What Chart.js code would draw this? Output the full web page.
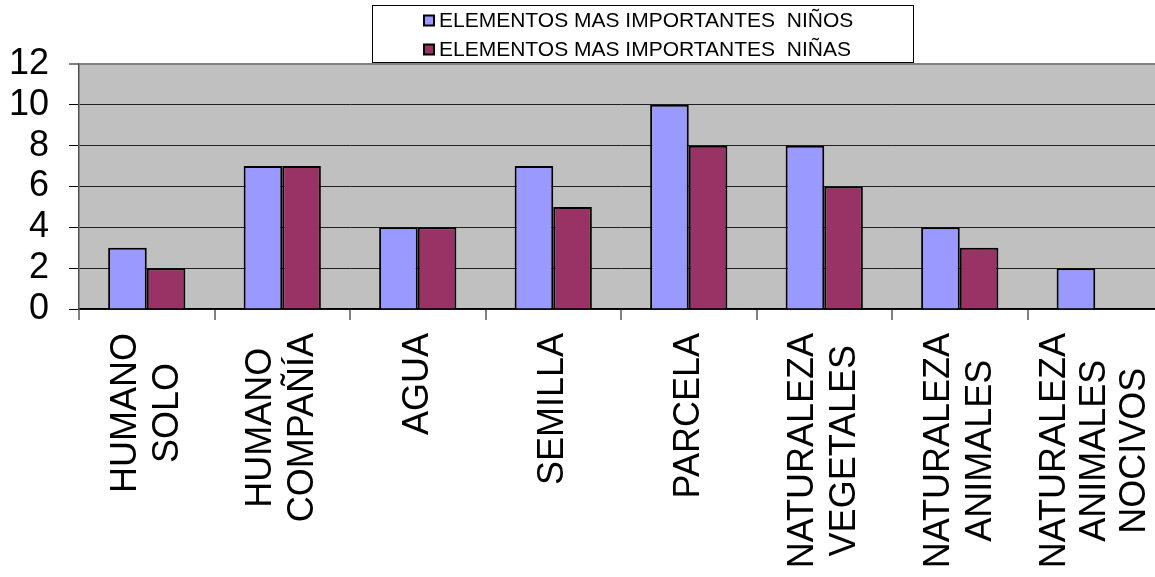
<!DOCTYPE html>
<html><head><meta charset="utf-8">
<script src="https://cdn.jsdelivr.net/npm/chart.js@4"></script>
<style>html,body{margin:0;padding:0;overflow:hidden;background:#fff}
#wrap{width:1165px;height:577px;position:relative}</style>
</head><body><div id="wrap"><canvas id="c" width="1165" height="577"></canvas></div>
<script>
const categories = [["HUMANO","SOLO"],["HUMANO","COMPAÑÍA"],["AGUA"],["SEMILLA"],["PARCELA"],["NATURALEZA","VEGETALES"],["NATURALEZA","ANIMALES"],["NATURALEZA","ANIMALES","NOCIVOS"]];
const ninos = [3,7,4,7,10,8,4,2];
const ninas = [2,7,4,5,8,6,3,0];
const seriesNames = ["ELEMENTOS MAS IMPORTANTES  NIÑOS","ELEMENTOS MAS IMPORTANTES  NIÑAS"];
const yTicks = [0,2,4,6,8,10,12];

const FONT = 'Arial, "Liberation Sans", sans-serif';

const bgPlugin = {
  id: 'plotBg',
  beforeDraw(chart) {
    const {ctx, chartArea: a} = chart;
    ctx.save();
    ctx.fillStyle = '#C0C0C0';
    ctx.fillRect(a.left, a.top, a.right - a.left, a.bottom - a.top);
    ctx.restore();
  }
};

const labelPlugin = {
  id: 'xLabels',
  afterDraw(chart) {
    const {ctx} = chart;
    const xs = chart.scales.x;
    ctx.save();
    ctx.font = '36px ' + FONT;
    ctx.fillStyle = '#000';
    ctx.textAlign = 'center';
    ctx.textBaseline = 'middle';
    categories.forEach((lines, i) => {
      const cx = xs.getPixelForValue(i);
      const maxW = Math.max(...lines.map(l => ctx.measureText(l).width));
      const lh = lines.length > 2 ? 40 : 42;
      const cy = chart.chartArea.bottom + 24 + maxW / 2;
      lines.forEach((l, j) => {
        const x = cx + (j - (lines.length - 1) / 2) * lh;
        ctx.save();
        ctx.translate(x, cy);
        ctx.rotate(-Math.PI / 2);
        ctx.fillText(l, 0, 0);
        ctx.restore();
      });
    });
    ctx.restore();
  }
};

const legendPlugin = {
  id: 'boxLegend',
  afterDraw(chart) {
    const {ctx} = chart;
    ctx.save();
    ctx.strokeStyle = '#000';
    ctx.lineWidth = 1;
    ctx.strokeRect(372.5, 5.5, 541, 57);
    ctx.font = '21px ' + FONT;
    ctx.textBaseline = 'middle';
    ctx.textAlign = 'left';
    chart.data.datasets.forEach((ds, i) => {
      const y = 20.5 + i * 29;
      ctx.fillStyle = ds.backgroundColor;
      ctx.fillRect(424, y - 5, 10, 10);
      ctx.lineWidth = 2;
      ctx.strokeStyle = '#000';
      ctx.strokeRect(424, y - 5, 10, 10);
      ctx.fillStyle = '#000';
      ctx.fillText(ds.label, 439, y + 1);
    });
    ctx.restore();
  }
};

new Chart(document.getElementById('c'), {
  type: 'bar',
  data: {
    labels: categories,
    datasets: [
      {label: seriesNames[0], data: ninos, backgroundColor: '#9999FF', borderColor: '#000', borderWidth: 2},
      {label: seriesNames[1], data: ninas, backgroundColor: '#993366', borderColor: '#000', borderWidth: 2}
    ]
  },
  options: {
    responsive: false,
    animation: false,
    devicePixelRatio: 1,
    layout: {padding: {top: 64, left: 9, right: 2, bottom: 257}},
    plugins: {legend: {display: false}, tooltip: {enabled: false}},
    datasets: {bar: {categoryPercentage: 0.57, barPercentage: 1.0}},
    scales: {
      x: {
        ticks: {display: false},
        grid: {display: true, drawOnChartArea: false, drawTicks: true, tickLength: 11, color: '#808080', lineWidth: 2, offset: true},
        border: {display: true, color: '#000', width: 1.5}
      },
      y: {
        min: 0, max: 12,
        afterBuildTicks(scale) { scale.ticks = yTicks.map(v => ({value: v})); },
        afterFit(scale) { scale.width = 70; },
        ticks: {font: {family: FONT, size: 36}, color: '#000', padding: 20, autoSkip: false},
        grid: {
          color: c => (c.tick && c.tick.value === 12) ? '#808080' : '#202020',
          lineWidth: c => (c.tick && c.tick.value === 12) ? 2 : 1,
          tickLength: 10, tickColor: '#000', tickWidth: 1
        },
        border: {display: true, color: '#505050', width: 1.5}
      }
    }
  },
  plugins: [bgPlugin, labelPlugin, legendPlugin]
});
</script></body></html>
